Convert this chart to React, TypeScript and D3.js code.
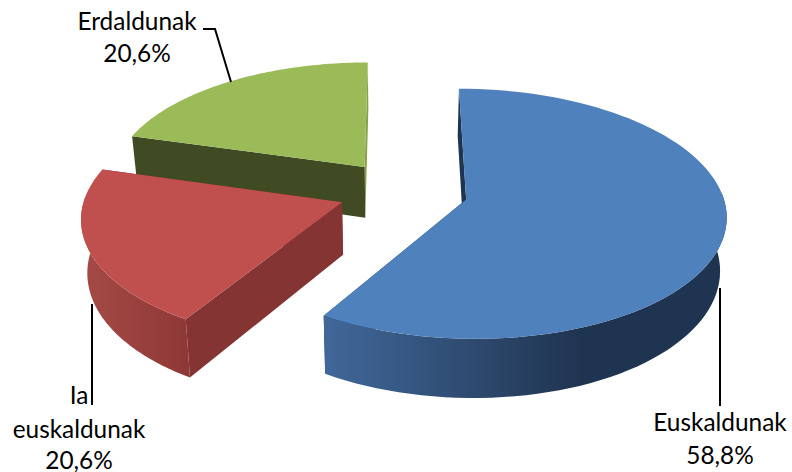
import React from "react";
import * as d3 from "d3";

const categories = ["Euskaldunak", "Ia euskaldunak", "Erdaldunak"];
const values = [58.8, 20.6, 20.6];
const valueLabels = ["58,8%", "20,6%", "20,6%"];
const topColors = ["#4f81bd", "#c0504d", "#9bbb59"];
const startSideColors = ["#1f3450", "#843432", "#404b23"];
const endSideColors = ["#1f3450", "#843432", "#86a04a"];
const wallStart = ["#41689a", "#a54a47", "#7d9747"];
const wallEnd = ["#1f3450", "#8e3835", "#5f7336"];
const wallStop = [0.64, 1, 1];

const W = 792, H = 472;
const vx = 396, hy = 191, cxWorld = 7, R = 252, explode = 64;
const k = 0.00045, tilt = 0.482, extrude = 52, shrink = 0.98, xScale = 1.015;

type P = [number, number];
const project = (X: number, Y: number): P => {
  const d = 1 + k * Y;
  return [vx + (X * xScale) / d, hy - (Y * tilt) / d];
};
const lower = (X: number, Y: number): P => {
  const d = 1 + k * Y;
  const p = project(X, Y);
  return [vx + (p[0] - vx) * shrink, p[1] + extrude / d];
};
const path = d3.line<P>().x((p) => p[0]).y((p) => p[1]);

const arcs = d3.pie<number>().sort(null).startAngle(0).endAngle(2 * Math.PI)(values);

const labelLines: { lines: string[]; x: number; ys: number[] }[] = [
  { lines: [categories[0], valueLabels[0]], x: 720, ys: [431, 464] },
  { lines: ["Ia", "euskaldunak", valueLabels[1]], x: 79, ys: [404, 438, 469] },
  { lines: [categories[2], valueLabels[2]], x: 137, ys: [30, 62] },
];
const leaders: P[][] = [
  [[720, 288], [720, 406]],
  [[92, 304], [92, 405]],
  [[203, 29], [215, 29], [231, 82]],
];

export default function App() {
  const slices = arcs.map((a, i) => {
    const mid = (a.startAngle + a.endAngle) / 2;
    const ox = cxWorld + explode * Math.sin(mid);
    const oy = explode * Math.cos(mid);
    const n = 90;
    const angles = d3.range(n + 1).map((j) => a.startAngle + ((a.endAngle - a.startAngle) * j) / n);
    const rim = angles.map((t) => [ox + R * Math.sin(t), oy + R * Math.cos(t)] as P);
    const front = angles
      .filter((t) => Math.cos(t) < 0.06)
      .map((t) => [ox + R * Math.sin(t), oy + R * Math.cos(t)] as P);
    const rimTop = rim.map((q) => project(q[0], q[1]));
    const top = [project(ox, oy), ...rimTop];
    const bot = rim.map((q) => lower(q[0], q[1]));
    const frontTop = front.map((q) => project(q[0], q[1]));
    const frontBot = front.map((q) => lower(q[0], q[1]));
    const apexT = project(ox, oy);
    const apexB = lower(ox, oy);
    const wall = [...frontTop, ...[...frontBot].reverse()];
    const side1 = [apexT, rimTop[0], bot[0], apexB];
    const side2 = [apexT, rimTop[n], bot[n], apexB];
    const xs = [...frontTop, ...frontBot].map((p) => p[0]);
    return { i, top, wall, side1, side2, x0: d3.min(xs) ?? 0, x1: d3.max(xs) ?? 1 };
  });
  const order = [2, 1, 0];
  return (
    <svg width={W} height={H} viewBox={`0 0 ${W} ${H}`} style={{ position: "absolute", left: 0, top: 0, background: "#fff" }}>
      <defs>
        {slices.map((s) => (
          <linearGradient key={s.i} id={`w${s.i}`} gradientUnits="userSpaceOnUse" x1={s.x0} x2={s.x1} y1={0} y2={0}>
            <stop offset={0} stopColor={wallStart[s.i]} />
            <stop offset={wallStop[s.i]} stopColor={wallEnd[s.i]} />
          </linearGradient>
        ))}
      </defs>
      {order.map((i) => {
        const s = slices[i];
        return (
          <g key={i}>
            <path d={path(s.side2)! + "Z"} fill={endSideColors[i]} />
            <path d={path(s.side1)! + "Z"} fill={startSideColors[i]} />
            {s.wall.length > 0 && <path d={path(s.wall)! + "Z"} fill={`url(#w${i})`} />}
            <path d={path(s.top)! + "Z"} fill={topColors[i]} />
          </g>
        );
      })}
      {leaders.map((l, i) => (
        <path key={i} d={path(l)!} fill="none" stroke="#000" strokeWidth={2} />
      ))}
      {labelLines.map((l, i) => (
        <text key={i} textAnchor="middle" fontFamily="Lato, 'Open Sans', sans-serif" fontSize={24.4} fill="#000">
          {l.lines.map((t, j) => (
            <tspan key={j} x={l.x} y={l.ys[j]}>{t}</tspan>
          ))}
        </text>
      ))}
    </svg>
  );
}
